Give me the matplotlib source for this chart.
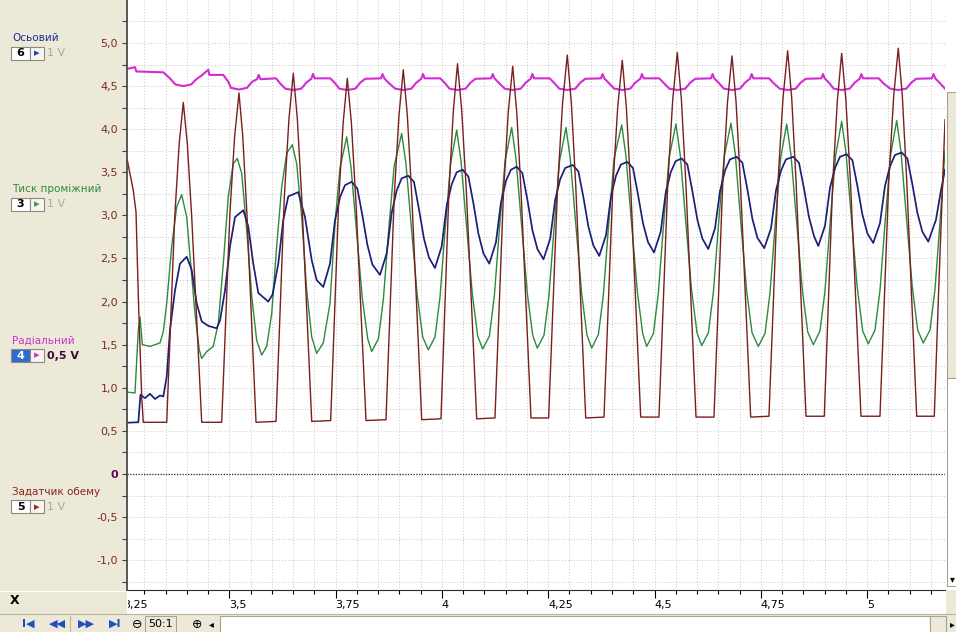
"""
Осцилограма: чотири канали (Осьовий, Тиск проміжний, Радіальний, Задатчик обему)
"""
import matplotlib.pyplot as plt
from matplotlib.patches import Rectangle
from matplotlib.lines import Line2D
from matplotlib.transforms import Bbox, TransformedBbox
from matplotlib.ticker import MultipleLocator

# ---- дані, зчитані з осцилограми (час, с / напруга, В) ----

# Задатчик обему (бордовий)
zad_t = [3.2601, 3.2742, 3.2806, 3.2860, 3.2940, 3.2977,
         3.3528, 3.3715, 3.3821, 3.3918, 3.4013, 3.4117, 3.4351,
         3.4821, 3.5016, 3.5126, 3.5228, 3.5316, 3.5412, 3.5628,
         3.6098, 3.6293, 3.6403, 3.6505, 3.6600, 3.6704, 3.6938,
         3.7384, 3.7572, 3.7677, 3.7775, 3.7872, 3.7977, 3.8215,
         3.8685, 3.8880, 3.8990, 3.9092, 3.9187, 3.9291, 3.9525,
         3.9978, 4.0165, 4.0270, 4.0367, 4.0466, 4.0575, 4.0818,
         4.1248, 4.1448, 4.1561, 4.1665, 4.1760, 4.1863, 4.2095,
         4.2510, 4.2721, 4.2839, 4.2949, 4.3044, 4.3148, 4.3382,
         4.3812, 4.4018, 4.4135, 4.4242, 4.4337, 4.4441, 4.4675,
         4.5105, 4.5312, 4.5428, 4.5536, 4.5633, 4.5738, 4.5976,
         4.6399, 4.6602, 4.6716, 4.6822, 4.6919, 4.7024, 4.7262,
         4.7692, 4.7903, 4.8022, 4.8132, 4.8227, 4.8330, 4.8563,
         4.8993, 4.9189, 4.9300, 4.9402, 4.9502, 4.9611, 4.9856,
         5.0303, 5.0509, 5.0626, 5.0733, 5.0828, 5.0932, 5.1166,
         5.1580, 5.1683, 5.1832]
zad_v = [3.64, 3.29, 3.04, 2.06, 0.90, 0.60,
         0.60, 2.97, 3.83, 4.31, 3.83, 2.97, 0.60,
         0.60, 3.04, 3.92, 4.42, 3.92, 3.04, 0.60,
         0.61, 3.20, 4.12, 4.65, 4.12, 3.20, 0.61,
         0.62, 3.16, 4.07, 4.59, 4.07, 3.16, 0.62,
         0.63, 3.23, 4.16, 4.69, 4.16, 3.23, 0.63,
         0.64, 3.28, 4.22, 4.76, 4.22, 3.28, 0.64,
         0.65, 3.26, 4.20, 4.73, 4.20, 3.26, 0.65,
         0.65, 3.34, 4.31, 4.86, 4.31, 3.34, 0.65,
         0.66, 3.31, 4.26, 4.80, 4.26, 3.31, 0.66,
         0.66, 3.37, 4.34, 4.89, 4.34, 3.37, 0.66,
         0.66, 3.34, 4.31, 4.85, 4.31, 3.34, 0.66,
         0.67, 3.38, 4.36, 4.91, 4.36, 3.38, 0.67,
         0.67, 3.36, 4.33, 4.88, 4.33, 3.36, 0.67,
         0.67, 3.40, 4.39, 4.94, 4.39, 3.40, 0.67,
         0.67, 2.13, 4.11]

# Тиск проміжний (зелений)
tysk_t = [3.2601, 3.2782, 3.2860, 3.2900, 3.2954, 3.3135, 3.3370, 3.3448,
          3.3528, 3.3645, 3.3763, 3.3880, 3.3998, 3.4092, 3.4193, 3.4294,
          3.4351, 3.4468, 3.4623, 3.4741, 3.4859, 3.4976, 3.5094, 3.5188,
          3.5291, 3.5409, 3.5527, 3.5644, 3.5762, 3.5879, 3.5997, 3.6114,
          3.6232, 3.6350, 3.6481, 3.6585, 3.6702, 3.6820, 3.6938, 3.7055,
          3.7210, 3.7368, 3.7486, 3.7603, 3.7761,
          3.7862, 3.7996, 3.8128, 3.8255, 3.8349, 3.8507, 3.8624, 3.8742, 3.8876, 3.9054,
          3.9155, 3.9289, 3.9421, 3.9548, 3.9680, 3.9838, 3.9955, 4.0073, 4.0207, 4.0348,
          4.0449, 4.0583, 4.0715, 4.0842, 4.0959, 4.1117, 4.1234, 4.1352, 4.1486, 4.1641,
          4.1742, 4.1876, 4.2008, 4.2135, 4.2243, 4.2401, 4.2518, 4.2636, 4.2770, 4.2918,
          4.3019, 4.3153, 4.3285, 4.3412, 4.3523, 4.3681, 4.3798, 4.3916, 4.4050, 4.4228,
          4.4329, 4.4463, 4.4595, 4.4722, 4.4816, 4.4974, 4.5091, 4.5209, 4.5343, 4.5505,
          4.5606, 4.5740, 4.5872, 4.5999, 4.6110, 4.6268, 4.6385, 4.6503, 4.6637, 4.6799,
          4.6900, 4.7034, 4.7166, 4.7293, 4.7441, 4.7599, 4.7716, 4.7834, 4.7968, 4.8109,
          4.8210, 4.8344, 4.8476, 4.8603, 4.8734, 4.8892, 4.9009, 4.9127, 4.9261, 4.9402,
          4.9503, 4.9637, 4.9769, 4.9896, 5.0028, 5.0186, 5.0303, 5.0421, 5.0555, 5.0696,
          5.0797, 5.0931, 5.1063, 5.1190, 5.1321, 5.1479, 5.1596, 5.1714, 5.1832]
tysk_v = [0.95, 0.94, 1.67, 1.82, 1.50, 1.48, 1.52, 1.65,
          1.98, 2.64, 3.10, 3.24, 2.98, 2.44, 1.86, 1.44,
          1.34, 1.42, 1.48, 1.75, 2.44, 3.22, 3.60, 3.66,
          3.49, 2.83, 2.06, 1.55, 1.38, 1.48, 1.86, 2.64,
          3.33, 3.72, 3.82, 3.60, 2.98, 2.13, 1.59, 1.40,
          1.52, 1.98, 2.91, 3.55, 3.91,
          3.56, 2.79, 2.04, 1.57, 1.42, 1.57, 2.03, 2.79, 3.57, 3.95,
          3.60, 2.82, 2.07, 1.59, 1.44, 1.59, 2.05, 2.82, 3.61, 3.99,
          3.63, 2.85, 2.09, 1.60, 1.45, 1.60, 2.07, 2.84, 3.63, 4.02,
          3.66, 2.87, 2.10, 1.61, 1.46, 1.61, 2.07, 2.84, 3.64, 4.02,
          3.66, 2.87, 2.10, 1.61, 1.46, 1.62, 2.08, 2.86, 3.66, 4.05,
          3.69, 2.89, 2.12, 1.63, 1.48, 1.63, 2.10, 2.87, 3.67, 4.06,
          3.70, 2.90, 2.13, 1.64, 1.49, 1.64, 2.11, 2.88, 3.68, 4.07,
          3.71, 2.90, 2.13, 1.64, 1.48, 1.63, 2.10, 2.87, 3.67, 4.06,
          3.70, 2.91, 2.14, 1.65, 1.50, 1.66, 2.12, 2.90, 3.70, 4.09,
          3.73, 2.93, 2.16, 1.66, 1.51, 1.67, 2.13, 2.91, 3.71, 4.10,
          3.74, 2.94, 2.17, 1.67, 1.52, 1.67, 2.14, 2.92, 3.75]

# Осьовий (темно-синій)
os_t = [3.2601, 3.2860, 3.2911, 3.3017, 3.3135, 3.3252, 3.3370, 3.3448,
        3.3528, 3.3605, 3.3723, 3.3840, 3.3998, 3.4115, 3.4233, 3.4351,
        3.4499, 3.4703, 3.4781, 3.4899, 3.5016, 3.5134, 3.5329, 3.5447,
        3.5564, 3.5682, 3.5917, 3.6016, 3.6152, 3.6270, 3.6387, 3.6622,
        3.6780, 3.6938, 3.7055, 3.7210,
        3.7368, 3.7485, 3.7603, 3.7720, 3.7878, 3.8012, 3.8130, 3.8247, 3.8365, 3.8544,
        3.8702, 3.8819, 3.8937, 3.9054, 3.9209, 3.9343, 3.9461, 3.9578, 3.9696, 3.9837,
        3.9995, 4.0112, 4.0230, 4.0347, 4.0489, 4.0623, 4.0741, 4.0858, 4.0976, 4.1114,
        4.1272, 4.1389, 4.1507, 4.1624, 4.1759, 4.1893, 4.2011, 4.2128, 4.2246, 4.2389,
        4.2547, 4.2664, 4.2782, 4.2899, 4.3076, 4.3210, 4.3328, 4.3445, 4.3563, 4.3701,
        4.3859, 4.3976, 4.4094, 4.4211, 4.4360, 4.4494, 4.4612, 4.4729, 4.4847, 4.4988,
        4.5146, 4.5263, 4.5381, 4.5498, 4.5639, 4.5773, 4.5891, 4.6008, 4.6126, 4.6265,
        4.6423, 4.6540, 4.6658, 4.6775, 4.6933, 4.7067, 4.7185, 4.7302, 4.7420, 4.7582,
        4.7740, 4.7857, 4.7975, 4.8092, 4.8264, 4.8398, 4.8516, 4.8633, 4.8751, 4.8852,
        4.9010, 4.9127, 4.9245, 4.9362, 4.9520, 4.9654, 4.9772, 4.9889, 5.0007, 5.0145,
        5.0303, 5.0420, 5.0538, 5.0655, 5.0813, 5.0947, 5.1065, 5.1182, 5.1300, 5.1439,
        5.1620, 5.1737, 5.1832]
os_v = [0.595, 0.60, 0.92, 0.88, 0.93, 0.87, 0.91, 0.90,
        1.13, 1.67, 2.13, 2.44, 2.52, 2.37, 1.98, 1.77,
        1.72, 1.69, 1.78, 2.13, 2.64, 2.98, 3.06, 2.87,
        2.44, 2.10, 2.00, 2.08, 2.44, 2.95, 3.22, 3.27,
        2.98, 2.48, 2.25, 2.17,
        2.44, 2.94, 3.21, 3.35, 3.39, 3.31, 3.00, 2.66, 2.43, 2.31,
        2.56, 3.03, 3.29, 3.43, 3.46, 3.39, 3.07, 2.73, 2.51, 2.39,
        2.64, 3.11, 3.36, 3.50, 3.53, 3.45, 3.14, 2.79, 2.56, 2.44,
        2.69, 3.15, 3.40, 3.53, 3.565, 3.49, 3.18, 2.83, 2.61, 2.49,
        2.73, 3.18, 3.42, 3.55, 3.585, 3.51, 3.21, 2.87, 2.65, 2.53,
        2.77, 3.22, 3.46, 3.59, 3.62, 3.55, 3.24, 2.91, 2.69, 2.57,
        2.81, 3.26, 3.50, 3.63, 3.66, 3.59, 3.28, 2.95, 2.73, 2.61,
        2.85, 3.28, 3.52, 3.65, 3.68, 3.61, 3.30, 2.96, 2.74, 2.62,
        2.85, 3.29, 3.52, 3.65, 3.68, 3.61, 3.31, 2.98, 2.76, 2.645,
        2.88, 3.32, 3.55, 3.68, 3.71, 3.64, 3.34, 3.01, 2.79, 2.68,
        2.91, 3.34, 3.57, 3.70, 3.73, 3.66, 3.36, 3.03, 2.81, 2.695,
        2.95, 3.29, 3.53]

# Радіальний (пурпурний)
rad_t = [3.2601, 3.2782, 3.2813, 3.3448, 3.3605,
         3.3730, 3.3918, 3.4106, 3.4224, 3.4341, 3.4506, 3.4530, 3.4859, 3.4977,
         3.5040, 3.5228, 3.5416, 3.5534, 3.5651, 3.5691, 3.5731, 3.6098, 3.6216,
         3.6317, 3.6505, 3.6693, 3.6811, 3.6928, 3.6968, 3.7008, 3.7375, 3.7493,
         3.7587, 3.7775, 3.7963, 3.8081, 3.8198, 3.8565, 3.8605, 3.8645, 3.8763,
         3.8904, 3.9092, 3.9280, 3.9398, 3.9515, 3.9555, 3.9595, 3.9962, 4.0080,
         4.0179, 4.0367, 4.0555, 4.0673, 4.0790, 4.1157, 4.1197, 4.1237, 4.1355,
         4.1477, 4.1665, 4.1853, 4.1971, 4.2088, 4.2128, 4.2168, 4.2535, 4.2653,
         4.2761, 4.2949, 4.3137, 4.3255, 4.3372, 4.3739, 4.3779, 4.3819, 4.3937,
         4.4054, 4.4242, 4.4430, 4.4548, 4.4665, 4.4705, 4.4745, 4.5112, 4.5230,
         4.5348, 4.5536, 4.5724, 4.5842, 4.5959, 4.6326, 4.6366, 4.6406, 4.6524,
         4.6634, 4.6822, 4.7010, 4.7128, 4.7245, 4.7285, 4.7325, 4.7692, 4.7810,
         4.7944, 4.8132, 4.8320, 4.8438, 4.8555, 4.8922, 4.8962, 4.9002, 4.9120,
         4.9214, 4.9402, 4.9590, 4.9708, 4.9825, 4.9865, 4.9905, 5.0272, 5.0390,
         5.0545, 5.0733, 5.0921, 5.1039, 5.1156, 5.1523, 5.1563, 5.1603, 5.1721,
         5.1832]
rad_v = [4.70, 4.72, 4.67, 4.66, 4.59,
         4.52, 4.50, 4.52, 4.58, 4.62, 4.69, 4.63, 4.63, 4.55,
         4.48, 4.46, 4.48, 4.55, 4.58, 4.63, 4.58, 4.59, 4.52,
         4.47, 4.455, 4.47, 4.54, 4.585, 4.64, 4.59, 4.59, 4.53,
         4.47, 4.455, 4.47, 4.54, 4.585, 4.59, 4.64, 4.59, 4.53,
         4.47, 4.455, 4.47, 4.54, 4.585, 4.64, 4.59, 4.59, 4.53,
         4.47, 4.455, 4.47, 4.54, 4.585, 4.59, 4.64, 4.59, 4.53,
         4.47, 4.455, 4.47, 4.54, 4.585, 4.64, 4.59, 4.59, 4.53,
         4.47, 4.455, 4.47, 4.54, 4.585, 4.59, 4.64, 4.59, 4.53,
         4.47, 4.455, 4.47, 4.54, 4.585, 4.64, 4.59, 4.59, 4.53,
         4.47, 4.455, 4.47, 4.54, 4.585, 4.59, 4.64, 4.59, 4.53,
         4.47, 4.455, 4.47, 4.54, 4.585, 4.64, 4.59, 4.59, 4.53,
         4.47, 4.455, 4.47, 4.54, 4.585, 4.59, 4.64, 4.59, 4.53,
         4.47, 4.455, 4.47, 4.54, 4.585, 4.64, 4.59, 4.59, 4.53,
         4.47, 4.455, 4.47, 4.54, 4.585, 4.59, 4.64, 4.59, 4.53,
         4.47]

# підписи осей
x_ticks = [3.5, 3.75, 4.0, 4.25, 4.5, 4.75, 5.0]
x_labels = ['3,5', '3,75', '4', '4,25', '4,5', '4,75', '5']
y_ticks = [-1.0, -0.5, 0.0, 0.5, 1.0, 1.5, 2.0, 2.5, 3.0, 3.5, 4.0, 4.5, 5.0]
y_labels = ['-1,0', '-0,5', '0', '0,5', '1,0', '1,5', '2,0', '2,5',
            '3,0', '3,5', '4,0', '4,5', '5,0']

# канали на лівій панелі
chan_names = ['Осьовий', 'Тиск проміжний', 'Радіальний', 'Задатчик обему']
chan_nums = ['6', '3', '4', '5']
chan_scales = ['1 V', '1 V', '0,5 V', '1 V']
chan_colors = ['#1d2c8c', '#2e8b3a', '#cc33cc', '#8b2222']
chan_arrows = ['#2244aa', '#33a044', '#cc33cc', '#aa2222']

# ---- розмітка вікна ----
W, H = 956, 632
BEIGE = '#ECE9D8'
EDGE = '#a7a390'


def fx(px):
    return px / W


def fy(py):
    return 1 - py / H


fig = plt.figure(figsize=(W / 100, H / 100), dpi=100, facecolor=BEIGE)


def box(x0, y0, x1, y1, fc, ec=EDGE, z=2):
    fig.add_artist(Rectangle((fx(x0), fy(y1)), (x1 - x0) / W, (y1 - y0) / H,
                             transform=fig.transFigure, facecolor=fc,
                             edgecolor=ec, lw=0.8, zorder=z))


def hline(x0, x1, y, color='#b8b4a0'):
    fig.add_artist(Line2D([fx(x0), fx(x1)], [fy(y), fy(y)],
                          transform=fig.transFigure, color=color, lw=0.8, zorder=2))


ax = fig.add_axes([fx(127), fy(590), (945 - 127) / W, 590 / H])
ax.set_facecolor('white')
ax.set_xlim(3.2594, 5.1832)
ax.set_ylim(-1.346, 5.499)

# сітка
ax.xaxis.set_minor_locator(MultipleLocator(0.05))
ax.yaxis.set_minor_locator(MultipleLocator(0.25))
ax.grid(True, which='both', color='#c6c6c6', linewidth=0.7, linestyle=(0, (1, 2)))
ax.set_axisbelow(True)
ax.axhline(0, color='#3a2a3a', linewidth=0.9, linestyle=(0, (1, 1.2)))

# сигнали
ax.plot(rad_t, rad_v, color='#d22cd2', linewidth=1.5)
ax.plot(tysk_t, tysk_v, color='#2c8a3c', linewidth=1.0)
ax.plot(os_t, os_v, color='#1b1f78', linewidth=1.25)
ax.plot(zad_t, zad_v, color='#7a1e1e', linewidth=1.0)

# осі
ax.set_xticks(x_ticks)
ax.set_xticklabels(x_labels, ha='left')
ax.set_yticks(y_ticks)
ax.set_yticklabels(y_labels)
ax.tick_params(axis='x', which='major', direction='out', length=5.5, width=0.8,
               pad=1.5, labelsize=8, colors='black')
ax.tick_params(axis='x', which='minor', direction='out', length=3, width=0.8)
ax.tick_params(axis='y', which='both', direction='out', length=3.6, width=0.8,
               pad=3, labelsize=8, color='#404040', labelcolor='#7a2a2a')
for lbl in ax.get_yticklabels():
    if lbl.get_text() == '0':
        lbl.set_color('#5a0a5a')
        lbl.set_fontweight('bold')
for side in ['top', 'right']:
    ax.spines[side].set_visible(False)
ax.spines['left'].set_color('#4a4a4a')
ax.spines['left'].set_linewidth(1.3)
ax.spines['bottom'].set_color('#303030')
ax.spines['bottom'].set_linewidth(0.8)

# частково прихований підпис 3,25
lab = ax.text(3.25, -9.7 / 590, '3,25', transform=ax.get_xaxis_transform(),
              ha='left', va='top', fontsize=8)
lab.set_clip_box(TransformedBbox(Bbox([[fx(128), 0], [1, 1]]), fig.transFigure))
lab.set_clip_on(True)

# білі смуги під шкалою часу та праворуч
box(127, 590, 946, 615, 'white', ec='none', z=-1)
box(945, 0, 956, 590, 'white', ec='none', z=-1)
box(947, 92, 957, 378, BEIGE)
box(947, 378, 957, 586, 'white')
fig.text(fx(952), fy(579), '▾', fontsize=7, ha='center', va='center')

# ліва панель каналів
for i, name in enumerate(chan_names):
    y = 38 + i * 151.3
    yb = y + 15
    active = chan_nums[i] == '4'
    fig.text(fx(12), fy(y), name, color=chan_colors[i], fontsize=7.5,
             ha='left', va='center')
    box(11, yb - 6.5, 30, yb + 6.5, '#2f6bd0' if active else 'white', ec='#8c8a7c')
    fig.text(fx(20.5), fy(yb), chan_nums[i], fontsize=8, fontweight='bold',
             color='white' if active else 'black', ha='center', va='center')
    box(30, yb - 6.5, 44, yb + 6.5, '#f7f6f0', ec='#8c8a7c')
    fig.text(fx(37), fy(yb), '▸', color=chan_arrows[i], fontsize=8,
             ha='center', va='center')
    fig.text(fx(47), fy(yb), chan_scales[i], fontsize=8,
             color='#3a0a3a' if active else '#a8a8a8',
             fontweight='bold' if active else 'normal', ha='left', va='center')

# нижня панель
hline(0, 127, 591, '#ffffff')
hline(0, 956, 614)
fig.text(fx(15), fy(601), 'X', fontsize=9, fontweight='bold', ha='center', va='center')
nav = ['I◀', '◀◀', '▶▶', '▶I']
for i, sym in enumerate(nav):
    fig.text(fx(28 + i * 29), fy(624), sym, color='#1f4fbf', fontsize=8,
             fontweight='bold', ha='center', va='center')
fig.add_artist(Line2D([fx(70), fx(70)], [fy(616), fy(631)], transform=fig.transFigure,
                      color='#b8b4a0', lw=0.8))
fig.text(fx(137), fy(624), '⊖', fontsize=9, ha='center', va='center')
box(145, 616, 176, 632, BEIGE)
fig.text(fx(160.5), fy(624), '50:1', fontsize=8, ha='center', va='center')
fig.text(fx(197), fy(624), '⊕', fontsize=9, ha='center', va='center')
fig.text(fx(211), fy(624), '◂', fontsize=7, ha='center', va='center')
box(220, 616, 930, 633, 'white')
box(930, 616, 946, 633, BEIGE)
fig.text(fx(952), fy(624), '▸', fontsize=7, ha='center', va='center')

fig.savefig('out.png', dpi=100, facecolor=fig.get_facecolor())
